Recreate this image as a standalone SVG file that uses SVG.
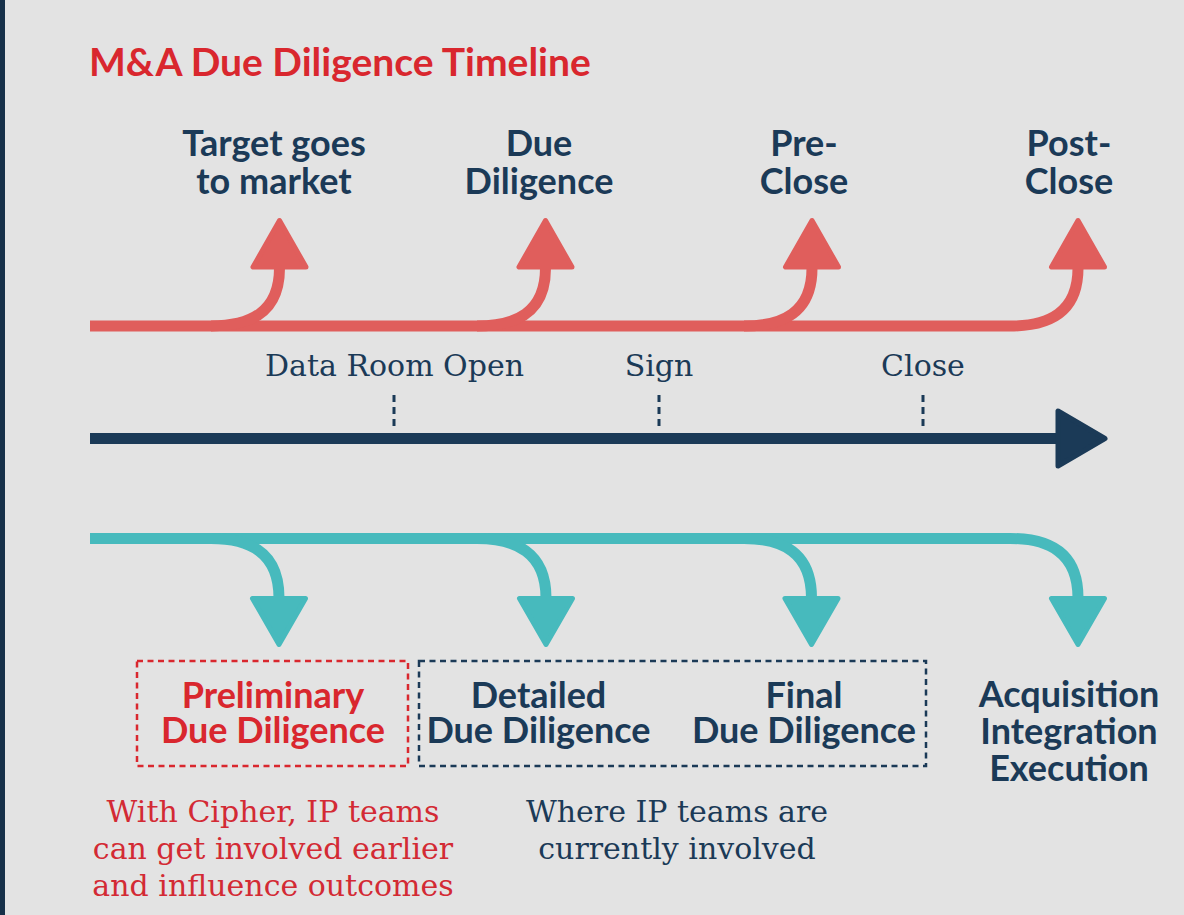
<svg xmlns="http://www.w3.org/2000/svg" width="1184" height="915" viewBox="0 0 1184 915">
<style>
.bg{fill:#e3e3e3}
.title{font-family:Lato,"Source Sans Pro","Open Sans",sans-serif;font-weight:700;font-size:39px;fill:#d9272e}
.hd{font-family:Lato,"Open Sans",sans-serif;font-weight:700;font-size:36px;fill:#1b3a57;text-anchor:middle}
.hdr{fill:#d9272e}
.sf{font-family:"DejaVu Serif","Liberation Serif",serif;font-size:30px;fill:#1b3a57;text-anchor:middle}
.sfr{fill:#d32a34}
.red{stroke:#e05e5c;fill:none;stroke-width:11}
.redh{fill:#e05e5c;stroke:#e05e5c;stroke-width:5;stroke-linejoin:round}
.teal{stroke:#47babd;fill:none;stroke-width:11}
.tealh{fill:#47babd;stroke:#47babd;stroke-width:5;stroke-linejoin:round}
.navy{stroke:#1b3a57;fill:none;stroke-width:11}
.navyh{fill:#1b3a57;stroke:#1b3a57;stroke-width:5;stroke-linejoin:round}
.tick{stroke:#1b3a57;stroke-width:3;stroke-dasharray:7 5}
.boxr{fill:none;stroke:#d9272e;stroke-width:2.5;stroke-dasharray:6 4.5}
.boxn{fill:none;stroke:#1b3a57;stroke-width:2.5;stroke-dasharray:6 4.5}
</style>
<rect class="bg" x="0" y="0" width="1184" height="915"/>
<rect x="0" y="0" width="5" height="915" fill="#163049"/>
<text class="title" x="89" y="76">M&amp;A Due Diligence Timeline</text>

<g id="connectors">
  <path class="red" d="M90 326 H1010"/>
  <path class="red" d="M211 326 C249 326 279.5 313 279.5 268"/>
  <path class="red" d="M477 326 C515 326 545.5 313 545.5 268"/>
  <path class="red" d="M744 326 C782 326 812 313 812 268"/>
  <path class="red" d="M1010 326 C1048 326 1078 313 1078 268"/>
  <polygon class="redh" points="279.5,220.5 253,267 306,267"/>
  <polygon class="redh" points="545.5,220.5 519,267 572,267"/>
  <polygon class="redh" points="812,220.5 785.5,267 838.5,267"/>
  <polygon class="redh" points="1078,220.5 1051.5,267 1104.5,267"/>
  <path class="navy" d="M90 438.5 H1060"/>
  <polygon class="navyh" points="1058,411 1058,466 1105,438.5"/>
  <line class="tick" x1="394" y1="395" x2="394" y2="430"/>
  <line class="tick" x1="659" y1="395" x2="659" y2="430"/>
  <line class="tick" x1="923" y1="395" x2="923" y2="430"/>
  <path class="teal" d="M90 538.5 H1010"/>
  <path class="teal" d="M211 538.5 C249 538.5 279 552 279 598"/>
  <path class="teal" d="M477 538.5 C515 538.5 546 552 546 598"/>
  <path class="teal" d="M744 538.5 C782 538.5 811.5 552 811.5 598"/>
  <path class="teal" d="M1010 538.5 C1048 538.5 1078 552 1078 598"/>
  <polygon class="tealh" points="252.5,598.5 305.5,598.5 279,644.5"/>
  <polygon class="tealh" points="519.5,598.5 572.5,598.5 546,644.5"/>
  <polygon class="tealh" points="785,598.5 838,598.5 811.5,644.5"/>
  <polygon class="tealh" points="1051.5,598.5 1104.5,598.5 1078,644.5"/>
</g>

<g id="phase-target">
  <text class="hd" x="274" y="156">Target goes</text>
  <text class="hd" x="274" y="194">to market</text>
</g>
<g id="phase-dd">
  <text class="hd" x="539" y="156">Due</text>
  <text class="hd" x="539" y="194">Diligence</text>
</g>
<g id="phase-preclose">
  <text class="hd" x="804" y="156">Pre-</text>
  <text class="hd" x="804" y="194">Close</text>
</g>
<g id="phase-postclose">
  <text class="hd" x="1069" y="156">Post-</text>
  <text class="hd" x="1069" y="194">Close</text>
</g>

<g id="milestone-dataroom"><text class="sf" x="394.5" y="376">Data Room Open</text></g>
<g id="milestone-sign"><text class="sf" x="659" y="376">Sign</text></g>
<g id="milestone-close"><text class="sf" x="923" y="376">Close</text></g>

<g id="box-preliminary">
  <rect class="boxr" x="137" y="661" width="271" height="105"/>
  <text class="hd hdr" x="273" y="708">Preliminary</text>
  <text class="hd hdr" x="273" y="743">Due Diligence</text>
</g>
<g id="box-current">
  <rect class="boxn" x="419" y="661" width="507" height="105"/>
</g>
<g id="stage-detailed">
  <text class="hd" x="538.5" y="708">Detailed</text>
  <text class="hd" x="538.5" y="743">Due Diligence</text>
</g>
<g id="stage-final">
  <text class="hd" x="804" y="708">Final</text>
  <text class="hd" x="804" y="743">Due Diligence</text>
</g>
<g id="stage-acquisition">
  <text class="hd" x="1069" y="707">Acquisition</text>
  <text class="hd" x="1069" y="744">Integration</text>
  <text class="hd" x="1069" y="781">Execution</text>
</g>

<g id="note-cipher">
  <text class="sf sfr" x="273" y="822">With Cipher, IP teams</text>
  <text class="sf sfr" x="273" y="859">can get involved earlier</text>
  <text class="sf sfr" x="273" y="896">and influence outcomes</text>
</g>
<g id="note-current">
  <text class="sf" x="677" y="822">Where IP teams are</text>
  <text class="sf" x="677" y="859">currently involved</text>
</g>
</svg>
